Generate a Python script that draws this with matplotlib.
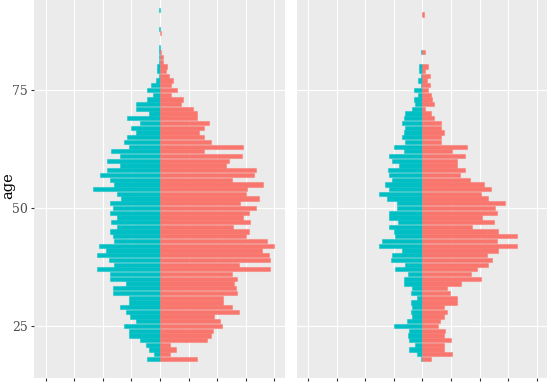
import numpy as np
import matplotlib
matplotlib.use('Agg')
import matplotlib.pyplot as plt

# ages 18..92, one value per age (counts), left facet and right facet
ages = list(range(18, 93))

left_teal = [9, 4, 8, 10, 14, 22, 22, 25, 17, 21, 24, 28, 22, 22, 33, 33, 24, 35, 35, 44,
             32, 36, 44, 38, 43, 32, 33, 35, 30, 34, 30, 35, 33, 35, 27, 30, 47, 32, 35, 42,
             37, 28, 37, 28, 34, 22, 25, 23, 17, 20, 14, 23, 8, 17, 17, 9, 5, 9, 6, 3,
             1, 2, 2, 1, 1, 1, 1, 0, 0, 0, 1, 0, 0, 0, 1]
left_salmon = [26, 7, 11, 7, 33, 36, 37, 43, 42, 38, 55, 50, 44, 44, 54, 53, 52, 54, 50, 77,
               55, 77, 76, 71, 80, 75, 60, 62, 51, 63, 58, 62, 67, 56, 69, 60, 61, 72, 50, 66,
               67, 46, 48, 57, 31, 58, 36, 31, 27, 31, 34, 26, 26, 23, 15, 16, 8, 12, 8, 9,
               6, 4, 5, 2, 2, 1, 0, 0, 0, 1, 0, 0, 0, 0, 0]
right_teal = [1, 4, 9, 5, 9, 10, 9, 20, 11, 7, 8, 7, 8, 4, 8, 7, 13, 13, 10, 19,
              12, 22, 21, 14, 30, 28, 19, 20, 23, 17, 23, 23, 18, 18, 25, 30, 23, 26, 21, 23,
              24, 16, 21, 23, 13, 20, 12, 14, 13, 12, 14, 13, 12, 7, 5, 6, 3, 6, 1, 3,
              1, 2, 2, 0, 0, 1, 0, 0, 0, 0, 0, 0, 0, 0, 0]
right_salmon = [6, 21, 15, 15, 20, 15, 16, 11, 12, 15, 17, 15, 24, 24, 19, 17, 27, 41, 34, 38,
                46, 49, 45, 53, 66, 52, 66, 53, 35, 50, 42, 52, 51, 58, 46, 41, 48, 43, 33, 26,
                30, 24, 24, 30, 21, 31, 13, 13, 15, 13, 13, 8, 6, 2, 8, 7, 6, 4, 5, 3,
                5, 2, 4, 0, 0, 2, 0, 0, 0, 0, 0, 0, 0, 1, 0]

teal = '#00BFC4'
salmon = '#F8766D'

fig = plt.figure(figsize=(5.51, 3.82), dpi=100)
ax1 = fig.add_axes([34.3 / 551, 3.7 / 382, 250.7 / 551, 378.3 / 382])
ax2 = fig.add_axes([296.7 / 551, 3.7 / 382, 250.6 / 551, 378.3 / 382])

a = np.array(ages)
for ax, m, f in [(ax1, left_teal, left_salmon), (ax2, right_teal, right_salmon)]:
    m = np.array(m)
    f = np.array(f)
    ax.set_facecolor('#EBEBEB')
    ax.barh(a[m > 0], -m[m > 0], height=0.9, color=teal,
            edgecolor=(0, 0.749, 0.769, 0.45), linewidth=0.8, zorder=3)
    ax.barh(a[f > 0], f[f > 0], height=0.9, color=salmon,
            edgecolor=(0.973, 0.463, 0.427, 0.45), linewidth=0.8, zorder=3)
    ax.set_xlim(-87.9, 87.4)
    ax.set_ylim(13.92, 94.07)
    ax.set_xticks([-80, -60, -40, -20, 0, 20, 40, 60, 80])
    ax.set_yticks([25, 50, 75])
    ax.grid(True, color='white', linewidth=0.8, zorder=0)
    ax.set_axisbelow(True)
    for s in ax.spines.values():
        s.set_visible(False)
    ax.tick_params(axis='x', length=2.2, width=0.8, color='#333333', labelbottom=False)

ax1.tick_params(axis='y', length=2.2, width=0.8, color='#333333', pad=2.2,
                labelsize=9, labelcolor='#4D4D4D')
for t in ax1.get_yticklabels():
    t.set_family('DejaVu Serif')
ax2.tick_params(axis='y', length=0, labelleft=False)

fig.text(8.5 / 551, 0.515, 'age', rotation=90, ha='center', va='center',
         fontsize=10.5, family='DejaVu Serif', color='black')

fig.savefig('out.png', dpi=100)
